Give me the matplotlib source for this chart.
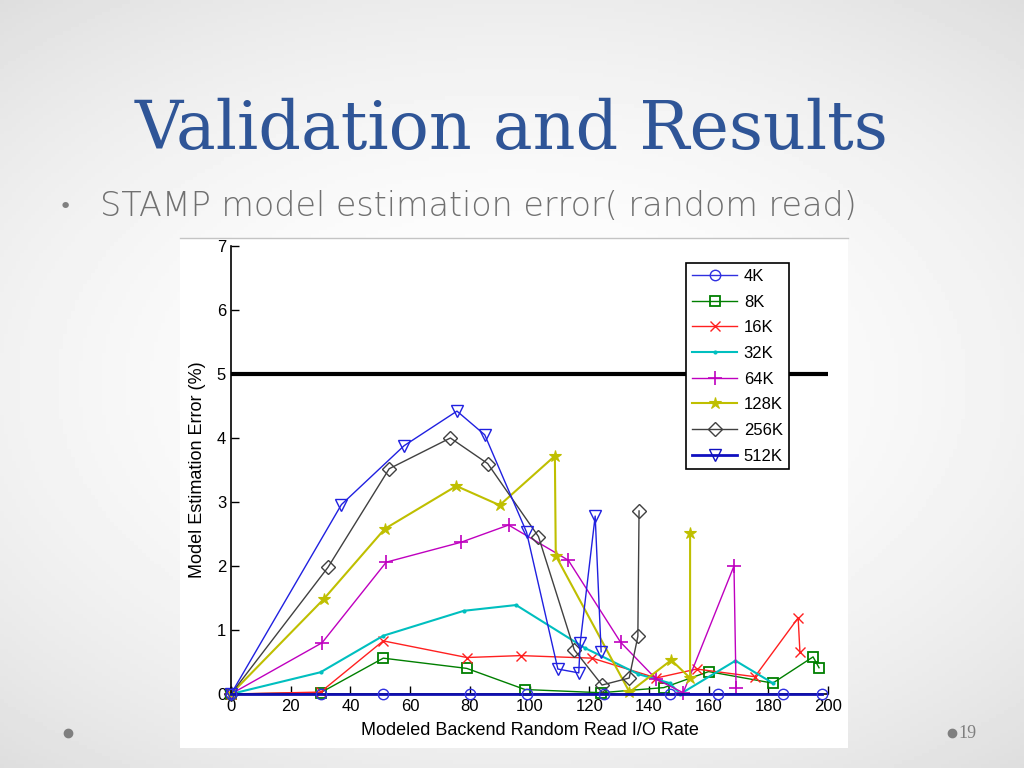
import numpy as np
import matplotlib
matplotlib.use('Agg')
import matplotlib.pyplot as plt
from matplotlib.patches import Rectangle

# data (x: modeled backend random read I/O rate, y: error %)
x_4k = [0, 30, 51, 80, 99, 125, 147, 163, 185, 198]
y_4k = [0, 0, 0, 0, 0, 0, 0, 0, 0, 0]

x_8k = [0, 30, 51, 79, 98.5, 124, 145, 160, 181.5, 195, 197]
y_8k = [0, 0.02, 0.56, 0.4, 0.07, 0.02, 0.1, 0.35, 0.17, 0.58, 0.41]

x_16k = [0, 30, 51, 79, 97, 121, 142.5, 156, 175.5, 190, 190.6]
y_16k = [0, 0.03, 0.83, 0.57, 0.6, 0.56, 0.25, 0.39, 0.27, 1.19, 0.65]

x_32k = [0, 30, 51, 78, 95.5, 118.5, 136.5, 147, 150.5, 169, 181.5]
y_32k = [0, 0.34, 0.91, 1.3, 1.39, 0.72, 0.31, 0.17, 0.0, 0.52, 0.17]

x_64k = [0, 30.5, 52, 77, 93, 113, 130.5, 142.5, 151.5, 168.5, 169.2]
y_64k = [0, 0.8, 2.06, 2.37, 2.64, 2.09, 0.81, 0.23, 0.02, 2.0, 0.1]

x_128k = [0, 31, 51.5, 75.5, 90, 108.5, 108.8, 133.5, 147.5, 153.8, 153.8]
y_128k = [0, 1.48, 2.58, 3.25, 2.95, 3.72, 2.16, 0.03, 0.53, 0.25, 2.52]

x_256k = [0, 32.5, 53, 73.5, 86, 103, 115, 124.3, 133.4, 136.3, 136.7]
y_256k = [0, 1.98, 3.52, 4.0, 3.6, 2.46, 0.69, 0.14, 0.25, 0.9, 2.86]

x_512k = [0, 37, 58, 75.7, 85, 99, 109.5, 116.5, 117, 122, 124]
y_512k = [0, 2.96, 3.88, 4.42, 4.05, 2.53, 0.39, 0.33, 0.8, 2.78, 0.66]

threshold = 5
x_ticks = [0, 20, 40, 60, 80, 100, 120, 140, 160, 180, 200]
y_ticks = [0, 1, 2, 3, 4, 5, 6, 7]

fig = plt.figure(figsize=(10.24, 7.68), dpi=100)

# slide background: light gray with a brighter centre
bg = fig.add_axes([0, 0, 1, 1], zorder=-10)
yy, xx = np.mgrid[-1:1:200j, -1:1:260j]
r = np.sqrt((xx * 0.85) ** 2 + (yy * 1.0) ** 2)
bg.imshow(1.0 - 0.075 * np.clip(r, 0, 1.4) ** 2, cmap='gray', vmin=0, vmax=1,
          aspect='auto', extent=[0, 1, 0, 1])
bg.set_xlim(0, 1)
bg.set_ylim(0, 1)
bg.axis('off')

# pasted figure area
bg.add_patch(Rectangle((180 / 1024, 1 - 748 / 768), 668 / 1024, 510 / 768,
                       facecolor='white', edgecolor='none'))
bg.plot([180 / 1024, 848 / 1024], [1 - 238 / 768, 1 - 238 / 768], color='#c4c4c4', lw=1)

fig.text(0.5, 1 - 130 / 768, 'Validation and Results', ha='center', va='center',
         fontsize=48, color='#2f5597', family='DejaVu Serif')
fig.text(65 / 1024, 1 - 207 / 768, '•', ha='center', va='center', fontsize=16, color='#808080')
fig.text(100 / 1024, 1 - 206 / 768, 'STAMP model estimation error( random read)', ha='left',
         va='center', fontsize=24, color='#707070', family='DejaVu Sans', fontweight='light')
bg.plot([68 / 1024], [1 - 733 / 768], 'o', color='#7f7f7f', ms=6)
bg.plot([952 / 1024], [1 - 733 / 768], 'o', color='#7f7f7f', ms=6)
fig.text(958 / 1024, 1 - 733 / 768, '19', ha='left', va='center', fontsize=13,
         color='#7f7f7f', family='Liberation Serif')

ax = fig.add_axes([231 / 1024, 1 - 694 / 768, 597 / 1024, 448 / 768])
ax.set_facecolor('white')

lab_font = 'Liberation Sans'

ax.plot(x_4k, y_4k, '-o', color='#1010b0', lw=2, ms=7.5, mfc='none', mec='#3030e0', mew=1,
        label='4K', clip_on=False, zorder=5)
ax.plot(x_8k, y_8k, '-s', color='#007f00', lw=1, ms=6.5, mfc='none', mew=1.3, label='8K', clip_on=False)
ax.plot(x_16k, y_16k, '-x', color='#ff2020', lw=1, ms=7, mew=1, label='16K', clip_on=False)
ax.plot(x_32k, y_32k, marker='.', color='#00bfbf', lw=1.5, ms=4, label='32K', linestyle='-', clip_on=False)
ax.plot(x_64k, y_64k, '-+', color='#bf00bf', lw=1, ms=10, mew=1.2, label='64K', clip_on=False)
ax.plot(x_128k, y_128k, '-*', color='#bfbf00', lw=1.5, ms=9, mew=0.8, label='128K', clip_on=False)
ax.plot(x_256k, y_256k, '-D', color='#404040', lw=1, ms=7.5, mfc='none', mew=1, label='256K', clip_on=False)
ax.plot(x_512k, y_512k, '-v', color='#2020e0', lw=1, ms=9, mfc='none', mew=1, label='512K', clip_on=False)

ax.plot([0, 200], [threshold, threshold], color='black', lw=3)

ax.set_xlim(0, 200)
ax.set_ylim(0, 7)
ax.set_xticks(x_ticks)
ax.set_yticks(y_ticks)
ax.tick_params(direction='in', length=6, width=1, labelsize=12)
for lbl in ax.get_xticklabels() + ax.get_yticklabels():
    lbl.set_family(lab_font)
ax.spines['top'].set_visible(False)
ax.spines['right'].set_visible(False)
ax.spines['left'].set_linewidth(1.2)
ax.spines['bottom'].set_linewidth(1.2)

ax.set_xlabel('Modeled Backend Random Read I/O Rate', fontsize=13, family=lab_font, labelpad=6)
ax.set_ylabel('Model Estimation Error (%)', fontsize=13, family=lab_font, labelpad=8)

leg = ax.legend(loc='upper right', bbox_to_anchor=(0.934, 0.962),
                frameon=True, fancybox=False, edgecolor='black', framealpha=1,
                handlelength=2.7, borderpad=0.35, labelspacing=0.64, handletextpad=0.4,
                borderaxespad=0, prop={'family': lab_font, 'size': 12})
leg.get_frame().set_linewidth(1.2)
leg.set_zorder(10)
leg_lines = leg.get_lines()
leg_lines[0].set_linewidth(1)
leg_lines[0].set_color('#3030e0')
leg_lines[7].set_linewidth(2)
leg_lines[7].set_color('#1010c0')

fig.savefig('out.png', dpi=100)
